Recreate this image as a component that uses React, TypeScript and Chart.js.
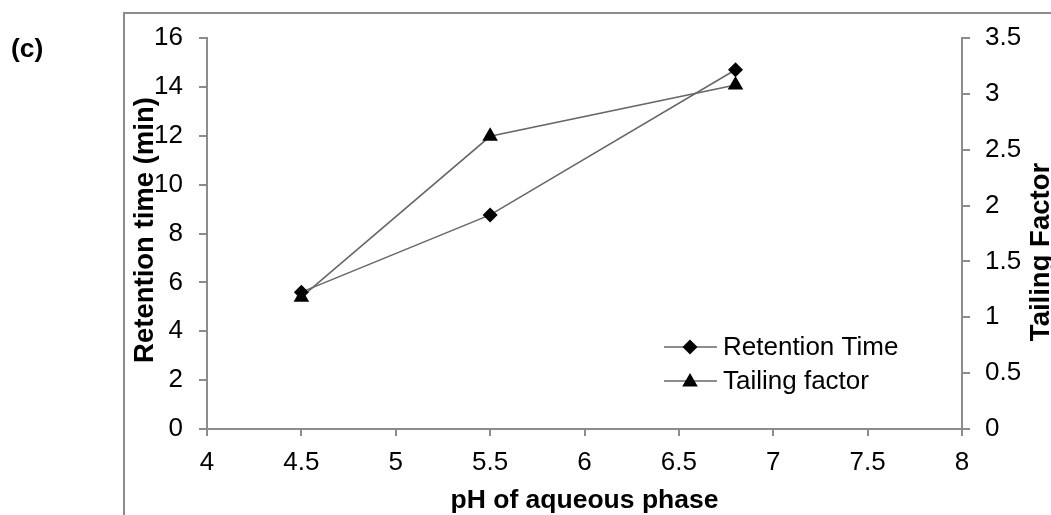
import React, { useEffect, useRef } from 'react';
import { Chart, registerables } from 'chart.js';

Chart.register(...registerables);

// pH of the aqueous phase (x) and the two measured responses
const phValues = [4.5, 5.5, 6.8];
const retentionTime = [5.6, 8.76, 14.7];
const tailingFactor = [1.18, 2.62, 3.08];

const seriesLabels = ['Retention Time', 'Tailing factor'];
const xTitle = 'pH of aqueous phase';
const yLeftTitle = 'Retention time (min)';
const yRightTitle = 'Tailing Factor';
const panelLabel = '(c)';

const xRange = [4, 8];
const xStep = 0.5;
const yLeftRange = [0, 16];
const yLeftStep = 2;
const yRightRange = [0, 3.5];
const yRightStep = 0.5;

const FONT = '"Liberation Sans", Arial, sans-serif';
const AXIS_GREY = '#8c8c8c';
const LINE_GREY = '#666666';
const TICK_SIZE = 26;
const TITLE_SIZE = 26.5;

const DIAMOND_R = 7.5;
const TRIANGLE_R = 9;

const plainNumber = (v: any) => String(Number(Number(v).toFixed(3)));

function drawDiamond(ctx: CanvasRenderingContext2D, x: number, y: number, r: number) {
  ctx.beginPath();
  ctx.moveTo(x - r, y);
  ctx.lineTo(x, y - r);
  ctx.lineTo(x + r, y);
  ctx.lineTo(x, y + r);
  ctx.closePath();
  ctx.fill();
}

function drawTriangle(ctx: CanvasRenderingContext2D, x: number, y: number, r: number) {
  const hw = r * Math.sin((2 * Math.PI) / 3);
  ctx.beginPath();
  ctx.moveTo(x, y - r);
  ctx.lineTo(x + hw, y + r / 2);
  ctx.lineTo(x - hw, y + r / 2);
  ctx.closePath();
  ctx.fill();
}

// Outer frame around the figure panel (drawn behind everything)
const framePlugin = {
  id: 'panelFrame',
  beforeDraw(chart: any) {
    const { ctx, width, height } = chart;
    ctx.save();
    ctx.fillStyle = '#ffffff';
    ctx.fillRect(0, 0, width, height);
    ctx.strokeStyle = AXIS_GREY;
    ctx.lineWidth = 2;
    ctx.beginPath();
    ctx.moveTo(124, height + 10);
    ctx.lineTo(124, 13);
    ctx.lineTo(width + 10, 13);
    ctx.stroke();
    ctx.restore();
  },
};

// Axis titles, panel letter and the in-plot legend
const annotationPlugin = {
  id: 'panelText',
  afterDraw(chart: any) {
    const { ctx, chartArea } = chart;
    ctx.save();
    ctx.fillStyle = '#000';

    // panel letter
    ctx.font = `bold ${TITLE_SIZE}px ${FONT}`;
    ctx.textAlign = 'left';
    ctx.textBaseline = 'alphabetic';
    ctx.fillText(panelLabel, 11, 57);

    // x title
    ctx.textAlign = 'center';
    ctx.fillText(xTitle, (chartArea.left + chartArea.right) / 2, 508);

    // left y title
    ctx.save();
    ctx.font = `bold 27.5px ${FONT}`;
    ctx.translate(153, 230);
    ctx.rotate(-Math.PI / 2);
    ctx.textAlign = 'center';
    ctx.fillText(yLeftTitle, 0, 0);
    ctx.restore();

    // right y title (runs past the canvas edge)
    ctx.save();
    ctx.font = `bold 27.5px ${FONT}`;
    ctx.translate(1049, 252);
    ctx.rotate(-Math.PI / 2);
    ctx.textAlign = 'center';
    ctx.fillText(yRightTitle, 0, 0);
    ctx.restore();

    // legend
    const rows = [347, 381];
    const lx0 = 664;
    const lx1 = 717;
    const mx = 690;
    chart.data.datasets.forEach((ds: any, i: number) => {
      const y = rows[i];
      ctx.strokeStyle = LINE_GREY;
      ctx.lineWidth = 1.5;
      ctx.beginPath();
      ctx.moveTo(lx0, y);
      ctx.lineTo(lx1, y);
      ctx.stroke();
      ctx.fillStyle = '#000';
      if (i === 0) drawDiamond(ctx, mx, y, DIAMOND_R);
      else drawTriangle(ctx, mx, y + 1, TRIANGLE_R);
      ctx.font = `${TICK_SIZE}px ${FONT}`;
      ctx.textAlign = 'left';
      ctx.textBaseline = 'middle';
      ctx.fillText(ds.label, 723, y + 1);
    });
    ctx.restore();
  },
};

export default function App() {
  const canvasRef = useRef<HTMLCanvasElement | null>(null);

  useEffect(() => {
    if (!canvasRef.current) return;
    const tickFont = { family: FONT, size: TICK_SIZE };
    const chart = new Chart(canvasRef.current, {
      type: 'line',
      data: {
        datasets: [
          {
            label: seriesLabels[0],
            data: phValues.map((x, i) => ({ x, y: retentionTime[i] })),
            yAxisID: 'y',
            borderColor: LINE_GREY,
            borderWidth: 1.5,
            pointStyle: 'rectRot',
            pointRadius: DIAMOND_R,
            pointBackgroundColor: '#000',
            pointBorderColor: '#000',
            pointBorderWidth: 0,
            tension: 0,
          },
          {
            label: seriesLabels[1],
            data: phValues.map((x, i) => ({ x, y: tailingFactor[i] })),
            yAxisID: 'y2',
            borderColor: LINE_GREY,
            borderWidth: 1.5,
            pointStyle: 'triangle',
            pointRadius: TRIANGLE_R,
            pointBackgroundColor: '#000',
            pointBorderColor: '#000',
            pointBorderWidth: 0,
            tension: 0,
          },
        ],
      },
      options: {
        responsive: false,
        animation: false,
        events: [],
        layout: { padding: { top: 38, left: 0, right: 0, bottom: 0 } },
        plugins: {
          legend: { display: false },
          tooltip: { enabled: false },
        },
        scales: {
          x: {
            type: 'linear',
            min: xRange[0],
            max: xRange[1],
            ticks: { stepSize: xStep, color: '#000', font: tickFont, padding: 11, maxRotation: 0, callback: plainNumber },
            grid: { drawOnChartArea: false, drawTicks: true, tickLength: 7, color: AXIS_GREY, lineWidth: 2 },
            border: { color: AXIS_GREY, width: 2 },
            afterFit: (s: any) => { s.height = 86; },
          },
          y: {
            type: 'linear',
            position: 'left',
            min: yLeftRange[0],
            max: yLeftRange[1],
            ticks: { stepSize: yLeftStep, color: '#000', font: tickFont, padding: 16, callback: plainNumber },
            grid: { drawOnChartArea: false, drawTicks: true, tickLength: 8, color: AXIS_GREY, lineWidth: 2 },
            border: { color: AXIS_GREY, width: 2 },
            afterFit: (s: any) => { s.width = 207; },
          },
          y2: {
            type: 'linear',
            position: 'right',
            min: yRightRange[0],
            max: yRightRange[1],
            ticks: { stepSize: yRightStep, color: '#000', font: tickFont, padding: 15, callback: plainNumber },
            grid: { drawOnChartArea: false, drawTicks: true, tickLength: 8, color: AXIS_GREY, lineWidth: 2 },
            border: { color: AXIS_GREY, width: 2 },
            afterFit: (s: any) => { s.width = 89; },
          },
        },
      },
      plugins: [framePlugin, annotationPlugin],
    } as any);
    return () => chart.destroy();
  }, []);

  return (
    <div style={{ position: 'absolute', left: 0, top: 0, width: 1051, height: 515, overflow: 'hidden' }}>
      <canvas ref={canvasRef} width={1051} height={515} style={{ display: 'block' }} />
    </div>
  );
}
